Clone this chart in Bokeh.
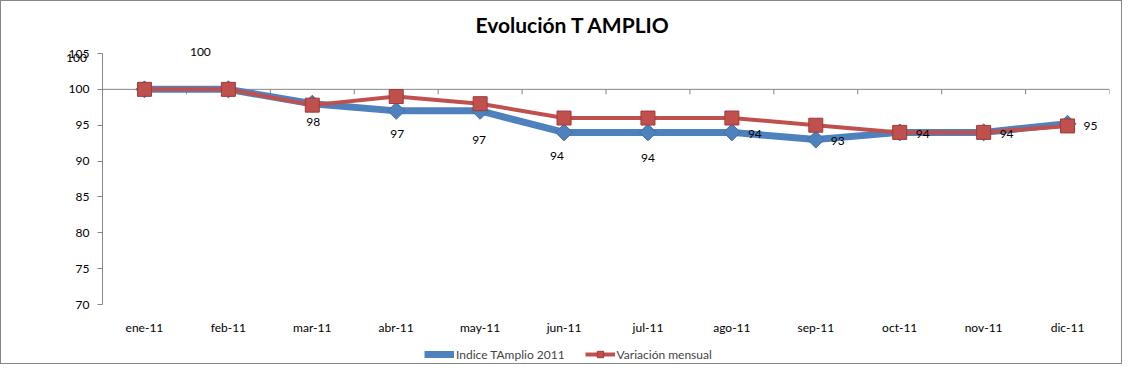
import math
from bokeh.plotting import figure
from bokeh.models import (ColumnDataSource, FixedTicker, LinearAxis, Range1d,
                          Legend, LegendItem, LabelSet)
from bokeh.core.properties import value
from bokeh.embed import file_html
from bokeh.resources import INLINE

# ---------------- data ----------------
months = ["ene-11", "feb-11", "mar-11", "abr-11", "may-11", "jun-11",
          "jul-11", "ago-11", "sep-11", "oct-11", "nov-11", "dic-11"]
indice = [100, 100, 98, 97, 97, 94, 94, 94, 93, 94, 94, 95.2]
variacion = [100, 100, 97.8, 99, 98, 96, 96, 96, 95, 94, 94, 94.9]
indice_labels = ["100", "100", "98", "97", "97", "94", "94", "94", "93", "94", "94", "95"]
y_ticks = [70, 75, 80, 85, 90, 95, 100, 105]
y_min, y_max, y_cross = 70, 105, 100

# label placement (screen px offsets, positive = right / down; styling only)
label_dx = [-68, -28, 1, 1, -1, -7, 0, 23, 22, 23, 23, 23]
label_dy = [-31, -37, 18, 23, 29, 24, 26, 2, 1, 2, 2, 2]

FONT = "Lato"
BLUE = "#4F81BD"
RED = "#C0504D"
GRAY = "#868686"

# layout in canvas pixels
W, H = 1122, 364
FRAME_LEFT, FRAME_RIGHT = 45, 1108      # frame spans the value-axis labels too
AXIS_PX = 101                           # where the value axis line sits
FRAME_TOP, FRAME_BOTTOM = 40, 362       # frame spans labels and legend too
PX_YMAX, PX_YMIN = 52, 303              # where 105 and 70 sit
n = len(months)
ppx = (FRAME_RIGHT - AXIS_PX) / n
x_lo = -0.5 - (AXIS_PX - FRAME_LEFT) / ppx
x_hi = n - 0.5
ppu = (PX_YMIN - PX_YMAX) / (y_max - y_min)
y_hi = y_max + (PX_YMAX - FRAME_TOP) / ppu
y_lo = y_min - (FRAME_BOTTOM - PX_YMIN) / ppu

xs = list(range(n))
src = ColumnDataSource(dict(x=xs, ind=indice, var=variacion, lab=indice_labels,
                            dx=label_dx, dy=[-d for d in label_dy]))
cat_src = ColumnDataSource(dict(x=xs, y=[y_min] * n, m=months))

p = figure(width=W, height=H, x_range=Range1d(x_lo, x_hi),
           y_range=Range1d(y_lo, y_hi), output_backend="svg", toolbar_location=None,
           x_axis_location=None, y_axis_location=None,
           min_border_left=FRAME_LEFT, min_border_right=W - FRAME_RIGHT,
           min_border_top=FRAME_TOP, min_border_bottom=H - FRAME_BOTTOM)
p.outline_line_color = None
p.background_fill_color = "white"
p.border_fill_color = "white"
p.grid.visible = False
p.styles = {"border": "1px solid " + GRAY}

# title (centred on the whole chart, not the plot frame)
p.title.text = "Evolución T AMPLIO"
p.title.align = "left"
p.title.offset = 373 + (AXIS_PX - FRAME_LEFT)
p.title.text_font = FONT
p.title.text_font_size = "21px"
p.title.text_font_style = "bold"
p.title.text_color = "black"

# y axis limited to 70..105, drawn at the left category boundary
yax = LinearAxis(ticker=FixedTicker(ticks=y_ticks), bounds=(y_min, y_max),
                 fixed_location=-0.5)
yax.axis_line_color = GRAY
yax.major_tick_line_color = GRAY
yax.major_tick_out = 5
yax.major_tick_in = 0
yax.minor_tick_line_color = None
yax.major_label_text_font = FONT
yax.major_label_text_font_size = "12px"
yax.major_label_text_color = "black"
yax.major_label_standoff = 8
p.add_layout(yax, "left")

# category labels below the value 70
cats = LabelSet(x="x", y="y", text="m", source=cat_src, y_offset=-23,
                text_font=value(FONT), text_font_size="12px", text_color="black",
                text_align="center", text_baseline="middle")
p.add_layout(cats)

# horizontal axis line crossing at 100 with tick marks between categories
bounds = [i - 0.5 for i in range(n + 1)]
p.segment(x0=[bounds[0]], y0=[y_cross], x1=[bounds[-1]], y1=[y_cross],
          line_color=GRAY, line_width=1)
p.ray(x=bounds, y=[y_cross] * len(bounds), length=5, length_units="screen",
      angle=-math.pi / 2, line_color=GRAY, line_width=1)

# series
bl = p.line("x", "ind", source=src, line_color=BLUE, line_width=7)
bm = p.scatter("x", "ind", source=src, marker="square", angle=math.pi / 4, size=12,
               fill_color=BLUE, line_color="#3F6FA8", line_width=1)
rl = p.line("x", "var", source=src, line_color=RED, line_width=4)
rm = p.scatter("x", "var", source=src, marker="square", size=14,
               fill_color=RED, line_color="#9E3B38", line_width=1)
# legend-only diamond swatch (no data points)
bdia = p.scatter(x=[], y=[], marker="diamond", size=14,
                 fill_color=BLUE, line_color="#3F6FA8", line_width=1)

labels = LabelSet(x="x", y="ind", text="lab", source=src, x_offset="dx", y_offset="dy",
                  text_font=value(FONT), text_font_size="12px", text_color="black",
                  text_align="center", text_baseline="middle")
p.add_layout(labels)

legend = Legend(items=[LegendItem(label="Indice TAmplio 2011", renderers=[bl, bdia]),
                       LegendItem(label="Variación mensual", renderers=[rl, rm])],
                orientation="horizontal", location=(322 + (AXIS_PX - FRAME_LEFT), 1))
legend.label_text_font = FONT
legend.label_text_font_size = "12px"
legend.label_standoff = 2
legend.label_height = 16
legend.glyph_width = 30
legend.glyph_height = 16
legend.spacing = 20
legend.border_line_color = None
legend.background_fill_alpha = 0
legend.padding = 2
legend.margin = 0
p.add_layout(legend)

open("out.html", "w").write(file_html(p, INLINE))
